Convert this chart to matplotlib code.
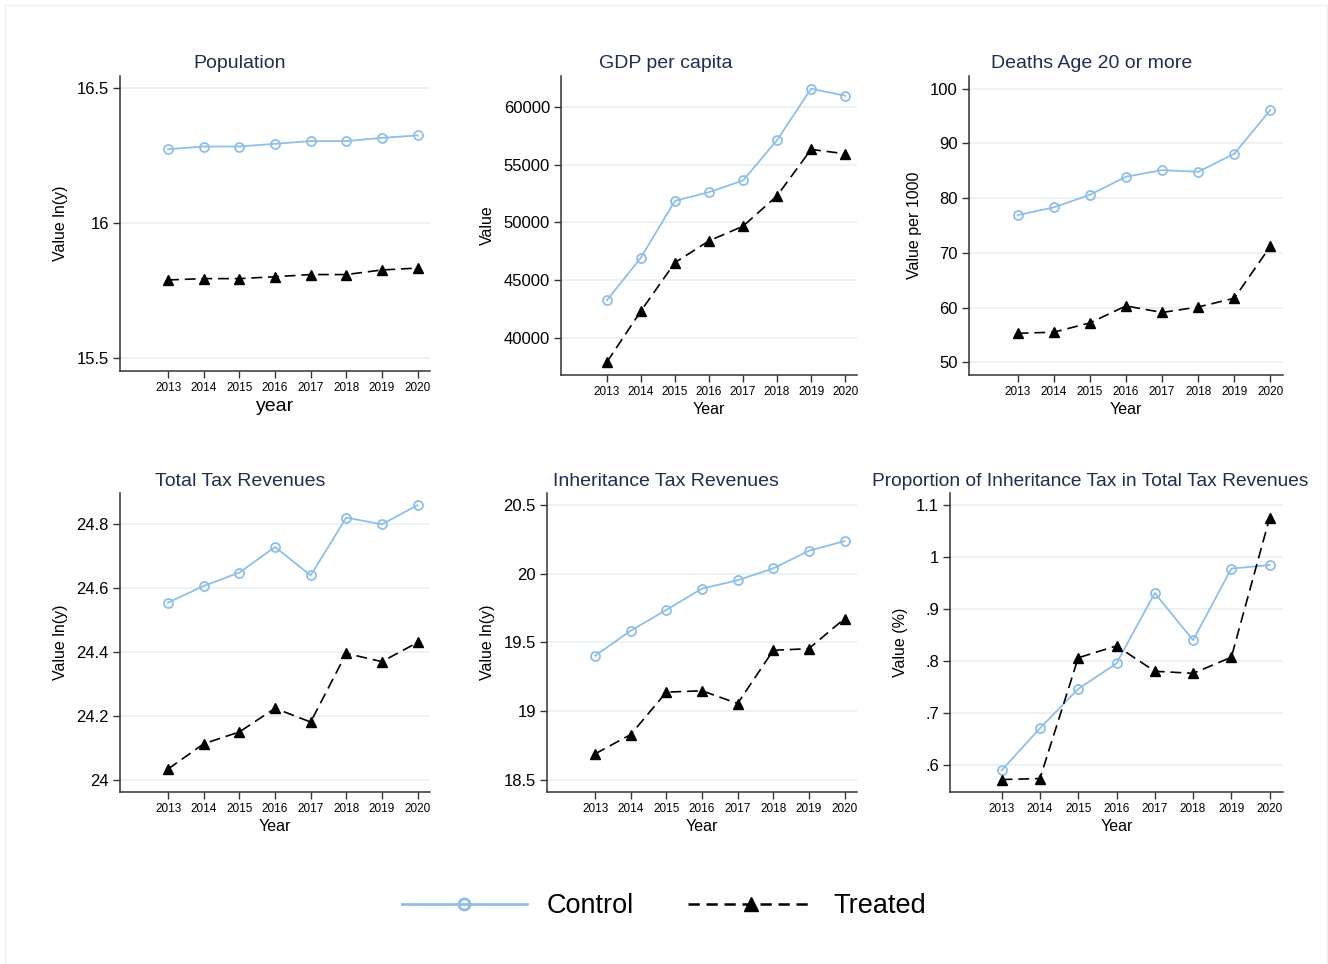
import matplotlib
matplotlib.use("Agg")
import matplotlib.pyplot as plt
from matplotlib.lines import Line2D
from matplotlib.patches import Rectangle

plt.rcParams['font.family'] = ['Liberation Sans', 'DejaVu Sans']

years = [2013, 2014, 2015, 2016, 2017, 2018, 2019, 2020]

pop_control = [16.274, 16.284, 16.284, 16.294, 16.304, 16.304, 16.316, 16.325]
pop_treated = [15.790, 15.795, 15.795, 15.802, 15.810, 15.810, 15.827, 15.834]

gdp_control = [43261, 46955, 51861, 52612, 53622, 57114, 61558, 60952]
gdp_treated = [37922, 42338, 46522, 48398, 49668, 52294, 56306, 55931]

deaths_control = [76.9, 78.3, 80.6, 83.9, 85.1, 84.8, 88.1, 96.1]
deaths_treated = [55.3, 55.5, 57.2, 60.3, 59.1, 60.1, 61.7, 71.2]

tax_control = [24.554, 24.606, 24.648, 24.728, 24.639, 24.820, 24.799, 24.859]
tax_treated = [24.033, 24.112, 24.149, 24.223, 24.180, 24.395, 24.369, 24.429]

inh_control = [19.404, 19.586, 19.738, 19.893, 19.954, 20.040, 20.169, 20.239]
inh_treated = [18.688, 18.829, 19.138, 19.148, 19.055, 19.443, 19.455, 19.674]

prop_control = [0.589, 0.670, 0.746, 0.795, 0.931, 0.840, 0.978, 0.985]
prop_treated = [0.571, 0.573, 0.806, 0.829, 0.780, 0.776, 0.807, 1.076]

titles = ["Population", "GDP per capita", "Deaths Age 20 or more",
          "Total Tax Revenues", "Inheritance Tax Revenues",
          "Proportion of Inheritance Tax in Total Tax Revenues"]
ylabels = ["Value ln(y)", "Value", "Value per 1000",
           "Value ln(y)", "Value ln(y)", "Value (%)"]
xlabels = ["year", "Year", "Year", "Year", "Year", "Year"]

pop_ticks = [15.5, 16, 16.5]
pop_ticklabels = ["15.5", "16", "16.5"]
gdp_ticks = [40000, 45000, 50000, 55000, 60000]
gdp_ticklabels = ["40000", "45000", "50000", "55000", "60000"]
deaths_ticks = [50, 60, 70, 80, 90, 100]
deaths_ticklabels = ["50", "60", "70", "80", "90", "100"]
tax_ticks = [24, 24.2, 24.4, 24.6, 24.8]
tax_ticklabels = ["24", "24.2", "24.4", "24.6", "24.8"]
inh_ticks = [18.5, 19, 19.5, 20, 20.5]
inh_ticklabels = ["18.5", "19", "19.5", "20", "20.5"]
prop_ticks = [0.6, 0.7, 0.8, 0.9, 1.0, 1.1]
prop_ticklabels = [".6", ".7", ".8", ".9", "1", "1.1"]

W, H = 1328, 964
fig = plt.figure(figsize=(W / 100, H / 100), dpi=100)
fig.patch.set_facecolor("white")
fig.patches.append(Rectangle((5 / W, -0.01), (1322 / W), 1 - 5 / H + 0.01,
                             transform=fig.transFigure, fill=False,
                             edgecolor="#efefef", linewidth=1.0))

CTRL = "#8fbfe8"
TITLE_C = "#1f2d4f"
SPINE_C = "#333333"

# pixel boxes: left, right, top, bottom
boxes = [(120, 430, 76, 371), (561, 857, 76, 375), (969, 1283, 76, 375),
         (120, 430, 493, 792), (547, 857, 493, 792), (950, 1283, 493, 792)]
title_pos = [(240, 64), (666, 64), (1092, 64), (240, 481), (666, 481), (1090, 481)]
ylims = [(15.453, 16.545), (36797, 62658), (47.68, 102.3),
         (23.961, 24.897), (18.41, 20.59), (0.547, 1.124)]
data = [(pop_control, pop_treated, pop_ticks, pop_ticklabels),
        (gdp_control, gdp_treated, gdp_ticks, gdp_ticklabels),
        (deaths_control, deaths_treated, deaths_ticks, deaths_ticklabels),
        (tax_control, tax_treated, tax_ticks, tax_ticklabels),
        (inh_control, inh_treated, inh_ticks, inh_ticklabels),
        (prop_control, prop_treated, prop_ticks, prop_ticklabels)]

for i, ((l, r, t, b), (c, tr, yt, ytl)) in enumerate(zip(boxes, data)):
    ax = fig.add_axes([l / W, 1 - b / H, (r - l) / W, (b - t) / H])
    ax.set_facecolor("white")
    for s in ["top", "right"]:
        ax.spines[s].set_visible(False)
    for s in ["left", "bottom"]:
        ax.spines[s].set_color(SPINE_C)
        ax.spines[s].set_linewidth(1.1)
    ax.set_xlim(2011.65, 2020.35)
    ax.set_ylim(*ylims[i])
    ax.set_yticks(yt)
    ax.set_yticklabels(ytl)
    ax.set_xticks(years)
    ax.set_xticklabels([str(y) for y in years])
    ax.tick_params(axis="y", labelsize=12, length=5, width=1.0, color=SPINE_C, pad=3)
    ax.tick_params(axis="x", labelsize=8.5, length=5, width=1.0, color=SPINE_C, pad=3)
    ax.grid(axis="y", color="#e9f1f3", linewidth=1.3)
    ax.set_axisbelow(True)
    ax.plot(years, c, color=CTRL, linewidth=1.3, marker="o", markersize=6.5,
            markerfacecolor="none", markeredgecolor=CTRL, markeredgewidth=1.3,
            zorder=3)
    ax.plot(years, tr, color="black", linewidth=1.2, linestyle=(0, (6.5, 3.5)),
            marker="^", markersize=7.5, markerfacecolor="black",
            markeredgecolor="black", zorder=4)
    tx, ty = title_pos[i]
    fig.text(tx / W, 1 - ty / H, titles[i], color=TITLE_C,
             fontsize=13.8 if i == 5 else 14, ha="center", va="center")
    ax.set_ylabel(ylabels[i], fontsize=11.5, labelpad=6)
    if i == 0:
        ax.set_xlabel(xlabels[i], fontsize=14, labelpad=3)
    else:
        ax.set_xlabel(xlabels[i], fontsize=11.5, labelpad=3)

handles = [
    Line2D([], [], color=CTRL, linewidth=2.0, marker="o", markersize=8,
           markerfacecolor="none", markeredgecolor=CTRL, markeredgewidth=2.0),
    Line2D([], [], color="black", linewidth=1.8, linestyle=(0, (4.5, 2.7)),
           marker="^", markersize=10, markerfacecolor="black",
           markeredgecolor="black"),
]
fig.legend(handles, ["Control", "Treated"], loc="center",
           bbox_to_anchor=(664 / W, 1 - 906 / H), ncol=2, frameon=False,
           fontsize=19.5, handlelength=4.6, handletextpad=0.75,
           columnspacing=2.0, numpoints=1)

fig.savefig("out.png", dpi=100, facecolor="white")
